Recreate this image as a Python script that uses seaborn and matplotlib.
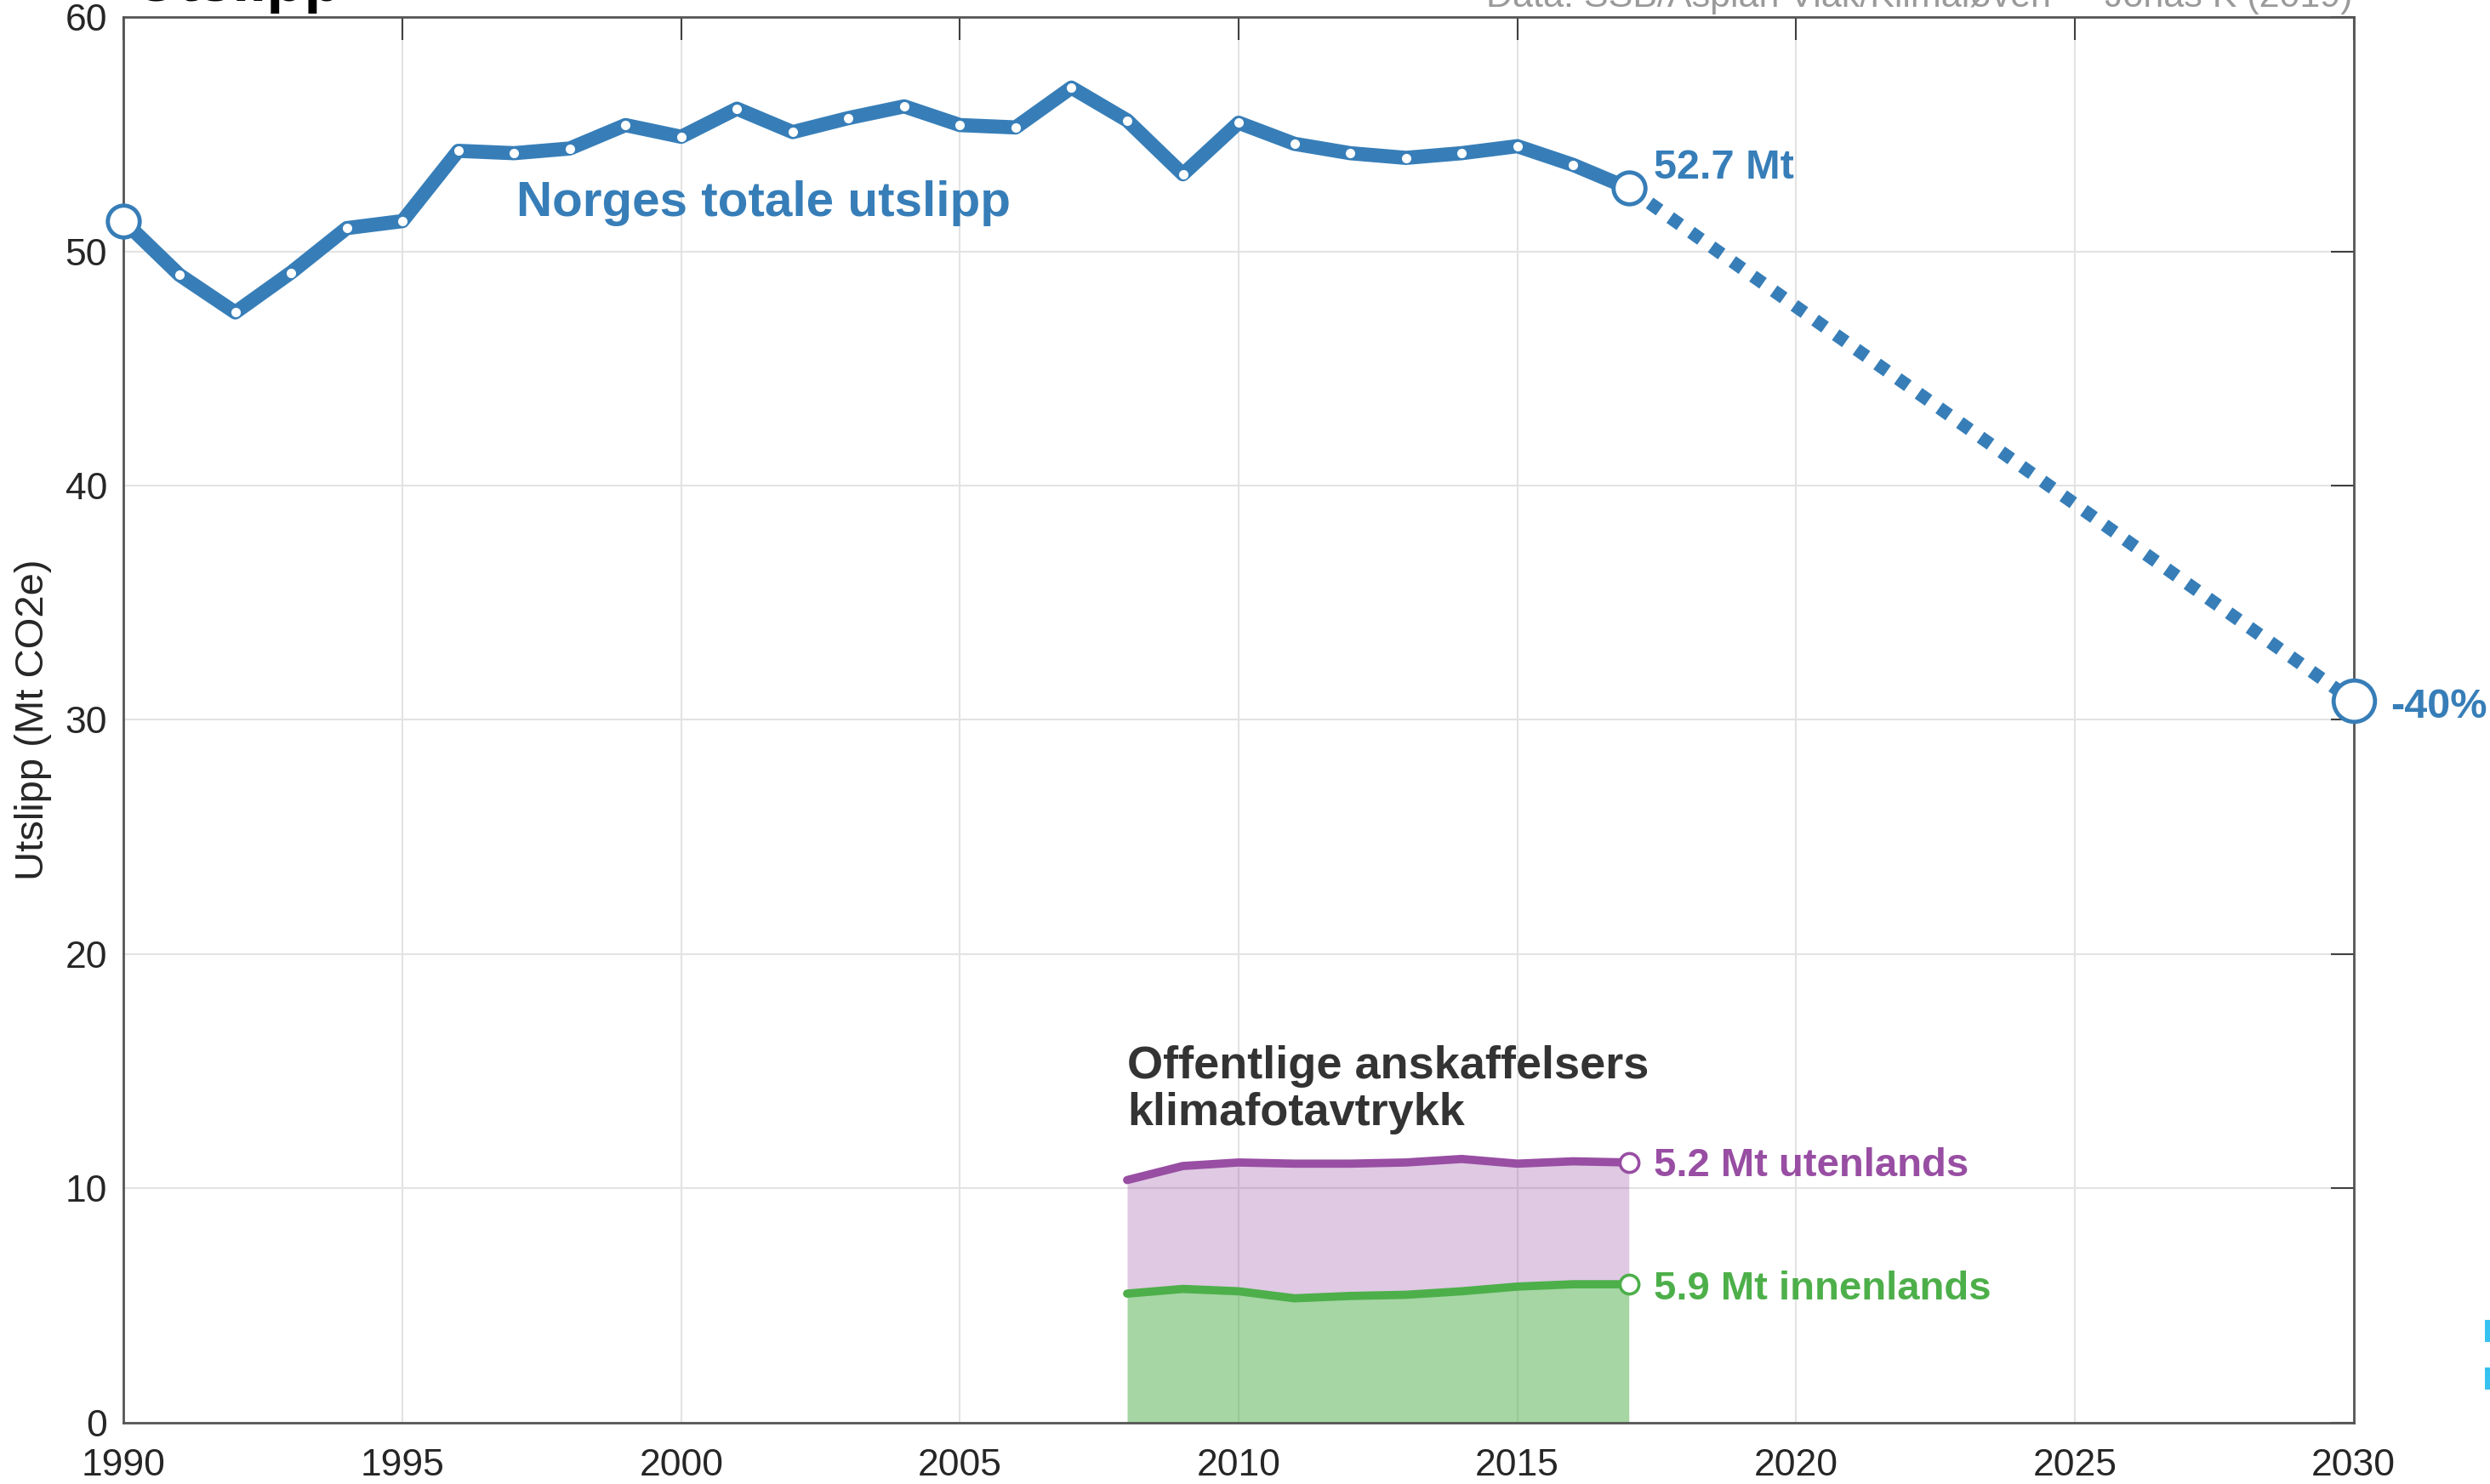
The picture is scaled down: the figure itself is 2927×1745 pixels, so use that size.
"""
Norges utslipp 1990-2017 med mål for 2030, og offentlige anskaffelsers klimafotavtrykk.
"""

import pandas as pd
import matplotlib.pyplot as plt
import seaborn as sns
from matplotlib.patches import Rectangle

# Norges totale utslipp (Mt CO2e)
years = list(range(1990, 2018))
utslipp = [51.3, 49.0, 47.4, 49.1, 51.0, 51.3, 54.3, 54.2, 54.4, 55.4,
           54.9, 56.1, 55.1, 55.7, 56.2, 55.4, 55.3, 57.0, 55.6, 53.3,
           55.5, 54.6, 54.2, 54.0, 54.2, 54.5, 53.7, 52.7]
maal_aar = 2030
maal_utslipp = 30.8   # -40 % fra 1990

# Offentlige anskaffelser (Mt CO2e)
ansk_years = list(range(2008, 2018))
innenlands = [5.5, 5.7, 5.6, 5.3, 5.4, 5.45, 5.6, 5.8, 5.9, 5.9]
utenlands = [4.85, 5.25, 5.5, 5.75, 5.65, 5.65, 5.65, 5.25, 5.25, 5.2]

x_ticks = list(range(1990, 2031, 5))
y_ticks = list(range(0, 61, 10))

source = "Data: SSB/Asplan Viak/Klimaløven  \u2022  Jonas K (2019)"

blue = "#377eb8"
purple = "#984ea3"
green = "#4daf4a"

sns.set_theme(style="white")
plt.rcParams['font.family'] = ['Liberation Sans', 'DejaVu Sans']

df = pd.DataFrame({"år": years, "utslipp": utslipp})
ansk = pd.DataFrame({"år": ansk_years, "innenlands": innenlands, "utenlands": utenlands})
ansk["total"] = ansk["innenlands"] + ansk["utenlands"]

fig = plt.figure(figsize=(29.27, 17.45), dpi=100)
ax = fig.add_axes([0.0497, 0.0415, 0.8955, 0.9468])

# stacked areas
ax.fill_between(ansk["år"], 0, ansk["innenlands"], color=green, alpha=0.5, lw=0, zorder=1)
ax.fill_between(ansk["år"], ansk["innenlands"], ansk["total"], color=purple, alpha=0.3, lw=0, zorder=1)
sns.lineplot(data=ansk, x="år", y="innenlands", color=green, lw=7, ax=ax, zorder=3)
sns.lineplot(data=ansk, x="år", y="total", color=purple, lw=7, ax=ax, zorder=3)
last = ansk.iloc[-1]
ax.plot([last["år"]], [last["innenlands"]], ls="none", marker="o", ms=16,
        mfc="white", mew=2.6, mec=green, zorder=5)
ax.plot([last["år"]], [last["total"]], ls="none", marker="o", ms=16,
        mfc="white", mew=2.6, mec=purple, zorder=5)

# projection to 2030
sns.lineplot(x=[years[-1], maal_aar], y=[utslipp[-1], maal_utslipp], color=blue, lw=11,
             linestyle=(0, (0.95, 1.0)), ax=ax, zorder=3)

# main line
sns.lineplot(data=df, x="år", y="utslipp", color=blue, lw=12, marker="o", markersize=8,
             markerfacecolor="white", markeredgewidth=0, ax=ax, zorder=4)
ax.plot([years[0], years[-1]], [utslipp[0], utslipp[-1]], ls="none", marker="o", ms=27,
        mfc="white", mec=blue, mew=3.5, zorder=6, clip_on=False)
ax.plot([maal_aar], [maal_utslipp], ls="none", marker="o", ms=35,
        mfc="white", mec=blue, mew=3.5, zorder=6, clip_on=False)

# labels
ax.text(1997.05, 51.5, "Norges totale utslipp", color=blue, fontsize=42,
        fontweight="bold", va="baseline", ha="left")
ax.text(2017.45, 53.13, f"{utslipp[-1]} Mt", color=blue, fontsize=35,
        fontweight="bold", va="baseline", ha="left")
ax.text(2030.67, 30.1, "-40%", color=blue, fontsize=35,
        fontweight="bold", va="baseline", ha="left")
ax.text(2017.45, 10.53, f"{utenlands[-1]} Mt utenlands", color=purple, fontsize=34,
        fontweight="bold", va="baseline", ha="left")
ax.text(2017.45, 5.24, f"{innenlands[-1]} Mt innenlands", color=green, fontsize=34,
        fontweight="bold", va="baseline", ha="left")
ax.text(2008.0, 14.69, "Offentlige anskaffelsers", color="#333333", fontsize=39,
        fontweight="bold", va="baseline", ha="left")
ax.text(2008.0, 12.69, "klimafotavtrykk", color="#333333", fontsize=39,
        fontweight="bold", va="baseline", ha="left")

# axes styling
ax.set_xlim(1990, 2030)
ax.set_ylim(0, 60)
ax.set_xticks(x_ticks)
ax.set_yticks(y_ticks)
ax.set_xlabel("")
ax.set_ylabel("Utslipp (Mt CO2e)", fontsize=34, color="#262626", va="center")
ax.yaxis.set_label_coords(-0.0405, 0.5)
ax.grid(True, color="#e3e3e3", lw=1.5, zorder=0)
ax.set_axisbelow(True)
ax.tick_params(axis="both", direction="in", length=19.5, width=1.5, color="#404040",
               labelcolor="#262626", labelsize=32, top=True, right=True)
ax.tick_params(axis="x", pad=22)
ax.tick_params(axis="y", pad=14)
for sp in ax.spines.values():
    sp.set_color("#555555")
    sp.set_linewidth(2)
    sp.set_visible(True)

# title and source (cut at top of image)
fig.text(158 / 2927, 1 - 1 / 1745, "Utslipp", fontsize=52, fontweight="bold",
         color="black", va="baseline", ha="left")
fig.text(2765 / 2927, 1 - 8 / 1745, source, fontsize=31, color="#9a9a9a",
         va="baseline", ha="right")

# legend remnants at right edge
for y0 in (1552, 1608):
    fig.add_artist(Rectangle((2921 / 2927, 1 - (y0 + 26) / 1745), 6 / 2927, 26 / 1745,
                             transform=fig.transFigure, color="#36c2f0", lw=0))

fig.savefig("out.png", dpi=100)
plt.close(fig)
